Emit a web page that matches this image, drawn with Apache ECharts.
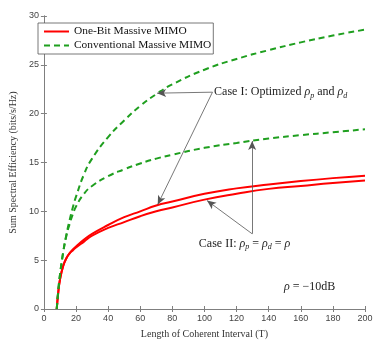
<!DOCTYPE html>
<html>
<head>
<meta charset="utf-8">
<script src="https://cdn.jsdelivr.net/npm/echarts@6/dist/echarts.min.js"></script>
<style>
  html, body { margin: 0; padding: 0; background: #fff; }
  #chart { width: 382px; height: 344px; }
</style>
</head>
<body>
<div id="chart"></div>
<script>
// coherence interval T
var lengths = [8, 9, 10, 12, 14, 16, 18, 20, 25, 30, 40, 50, 60, 70, 80, 100, 120, 140, 160, 180, 200];
var oneBitCase1 = [0, 1.8, 3.0, 4.4, 5.2, 5.7, 6.1, 6.4, 7.1, 7.7, 8.6, 9.4, 10.0, 10.6, 11.0, 11.8, 12.35, 12.75, 13.1, 13.4, 13.65];
var oneBitCase2 = [0, 1.8, 3.0, 4.4, 5.2, 5.7, 6.0, 6.3, 6.9, 7.5, 8.3, 8.9, 9.5, 10.0, 10.4, 11.2, 11.8, 12.3, 12.6, 12.9, 13.15];
var convCase1 = [0, 2.0, 3.5, 5.8, 7.6, 9.1, 10.4, 11.5, 13.8, 15.4, 17.6, 19.3, 20.8, 22.0, 23.0, 24.5, 25.6, 26.5, 27.3, 28.0, 28.6];
var convCase2 = [0, 2.0, 3.5, 5.8, 7.5, 8.7, 9.7, 10.5, 11.8, 12.6, 13.6, 14.3, 14.9, 15.4, 15.8, 16.5, 17.0, 17.45, 17.8, 18.1, 18.4];

// annotation anchors, in data units
var case1Joint = [105, 22.2];
var case1Tips = [[70.5, 22.1], [70.9, 10.7]];
var case2Joint = [129.7, 7.7];
var case2Tips = [[129.7, 17.2], [101.6, 11.1]];
var case1TextAt = [106, 22.2];
var case2TextAt = [96.5, 6.7];
var rhoTextAt = [149.5, 2.3];

var RED = '#ff0000';
var GREEN = '#1f9f1f';
var serif = '"Liberation Serif", "DejaVu Serif", serif';

function pairs(ys) {
    return lengths.map(function (x, i) { return [x, ys[i]]; });
}

function arrowLines(joint, tips) {
    return tips.map(function (t) {
        return [{ coord: joint }, { coord: t }];
    });
}

var chart = echarts.init(document.getElementById('chart'));

var axisCommon = {
    axisLine: { show: true, lineStyle: { color: '#7f7f7f', width: 1 } },
    axisTick: { show: true, inside: true, length: 3, lineStyle: { color: '#7f7f7f' } },
    splitLine: { show: false }
};

var option = {
    animation: false,
    backgroundColor: '#fff',
    grid: { left: 33, right: 17, top: 16, bottom: 29 },
    legend: {
        data: ['One-Bit Massive MIMO', 'Conventional Massive MIMO'],
        orient: 'vertical',
        left: 38,
        top: 23,
        itemWidth: 25,
        itemHeight: 10,
        itemGap: 3,
        padding: [3, 2, 3, 5],
        borderColor: '#555',
        borderWidth: 0.8,
        borderRadius: 0,
        backgroundColor: '#fff',
        itemStyle: { opacity: 0 },
        textStyle: { fontFamily: serif, fontSize: 11.4, color: '#111' }
    },
    xAxis: [
        Object.assign({
            type: 'value', min: 0, max: 200, interval: 20, position: 'bottom',
            name: 'Length of Coherent Interval (T)', nameLocation: 'middle', nameGap: 20,
            nameTextStyle: { fontFamily: serif, fontSize: 10, color: '#333' },
            axisLabel: { fontFamily: 'Liberation Sans, Arial, sans-serif', fontSize: 9, color: '#444', margin: 5 }
        }, axisCommon),
        Object.assign({
            type: 'value', min: 0, max: 200, interval: 20, position: 'top',
            axisLabel: { show: false }
        }, axisCommon)
    ],
    yAxis: [
        Object.assign({
            type: 'value', min: 0, max: 30, interval: 5, position: 'left',
            name: 'Sum Spectral Efficiency (bits/s/Hz)', nameLocation: 'middle', nameGap: 20,
            nameTextStyle: { fontFamily: serif, fontSize: 10, color: '#333' },
            axisLabel: { fontFamily: 'Liberation Sans, Arial, sans-serif', fontSize: 9, color: '#444', margin: 5 }
        }, axisCommon),
        Object.assign({
            type: 'value', min: 0, max: 30, interval: 5, position: 'right',
            axisLabel: { show: false }
        }, axisCommon)
    ],
    series: [
        {
            name: 'One-Bit Massive MIMO', type: 'line', data: pairs(oneBitCase1),
            smooth: 0.5, showSymbol: false, symbol: 'none',
            lineStyle: { color: RED, width: 2 }, itemStyle: { color: RED },
            markLine: {
                silent: true, symbol: ['none', 'arrow'], symbolSize: [6, 9], label: { show: false },
                lineStyle: { color: '#555', width: 0.8, type: 'solid' },
                data: arrowLines(case1Joint, case1Tips).concat(arrowLines(case2Joint, case2Tips))
            }
        },
        {
            name: 'One-Bit Massive MIMO', type: 'line', data: pairs(oneBitCase2),
            smooth: 0.5, showSymbol: false, symbol: 'none',
            lineStyle: { color: RED, width: 2 }, itemStyle: { color: RED }
        },
        {
            name: 'Conventional Massive MIMO', type: 'line', data: pairs(convCase1),
            smooth: 0.5, showSymbol: false, symbol: 'none',
            lineStyle: { color: GREEN, width: 2, type: [6, 4] }, itemStyle: { color: GREEN }
        },
        {
            name: 'Conventional Massive MIMO', type: 'line', data: pairs(convCase2),
            smooth: 0.5, showSymbol: false, symbol: 'none',
            lineStyle: { color: GREEN, width: 2, type: [6, 4] }, itemStyle: { color: GREEN }
        }
    ]
};
chart.setOption(option);

var richRho = {
    i: { fontFamily: serif, fontStyle: 'italic', fontSize: 12, fill: '#222' },
    s: { fontFamily: serif, fontStyle: 'italic', fontSize: 8, fill: '#222', padding: [7, 0, 0, 0] }
};

function textAt(pos, str) {
    var p = chart.convertToPixel({ xAxisIndex: 0, yAxisIndex: 0 }, pos);
    return {
        type: 'text', x: p[0], y: p[1],
        style: {
            text: str, fontFamily: serif, fontSize: 12, fill: '#222',
            verticalAlign: 'middle', align: 'left', rich: richRho
        }
    };
}

chart.setOption({
    graphic: [
        textAt(case1TextAt, 'Case I: Optimized {i|ρ}{s|p} and {i|ρ}{s|d}'),
        textAt(case2TextAt, 'Case II: {i|ρ}{s|p} = {i|ρ}{s|d} = {i|ρ}'),
        textAt(rhoTextAt, '{i|ρ} = −10dB')
    ]
});
</script>
</body>
</html>
